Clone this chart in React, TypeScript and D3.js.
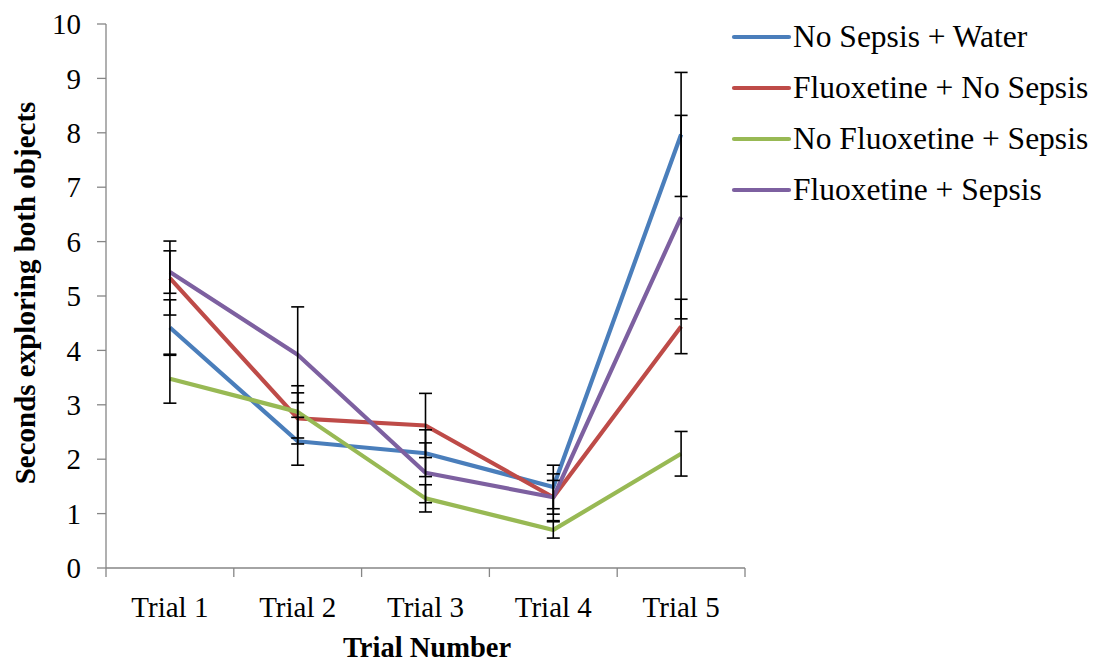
import * as d3 from "d3";

const trials = ["Trial 1", "Trial 2", "Trial 3", "Trial 4", "Trial 5"];
const seriesNames = [
  "No Sepsis + Water",
  "Fluoxetine + No Sepsis",
  "No Fluoxetine + Sepsis",
  "Fluoxetine + Sepsis",
];
const seriesColors = ["#4a7ebb", "#be4b48", "#98b954", "#7d60a0"];

const noSepsisWater = [4.42, 2.33, 2.11, 1.49, 7.97];
const fluoxNoSepsis = [5.33, 2.75, 2.62, 1.3, 4.44];
const noFluoxSepsis = [3.48, 2.87, 1.28, 0.7, 2.1];
const fluoxSepsis = [5.44, 3.92, 1.75, 1.3, 6.45];

const errNoSepsisWater = [0.51, 0.44, 0.43, 0.4, 1.14];
const errFluoxNoSepsis = [0.68, 0.47, 0.59, 0.43, 0.5];
const errNoFluoxSepsis = [0.45, 0.48, 0.25, 0.15, 0.41];
const errFluoxSepsis = [0.39, 0.88, 0.55, 0.31, 1.87];

const yTicks = [0, 1, 2, 3, 4, 5, 6, 7, 8, 9, 10];

const values = [noSepsisWater, fluoxNoSepsis, noFluoxSepsis, fluoxSepsis];
const errors = [errNoSepsisWater, errFluoxNoSepsis, errNoFluoxSepsis, errFluoxSepsis];

const W = 1106;
const H = 664;
const plot = { left: 106, right: 745, top: 24, bottom: 568 };
const serif = { fontFamily: "'Liberation Serif', 'Times New Roman', serif" };
const axisGray = "#868686";

export default function App() {
  const x = d3
    .scaleBand<string>()
    .domain(trials)
    .range([plot.left, plot.right]);
  const y = d3.scaleLinear().domain([0, 10]).range([plot.bottom, plot.top]);
  const cx = (t: string) => (x(t) ?? 0) + x.bandwidth() / 2;

  const line = d3
    .line<number>()
    .x((_, i) => cx(trials[i]))
    .y((d) => y(d));

  const boundaries = [...trials.map((t) => x(t) ?? 0), plot.right];

  return (
    <svg
      width={W}
      height={H}
      style={{ position: "absolute", left: 0, top: 0, background: "#fff" }}
    >
      {/* y axis */}
      <line x1={plot.left} x2={plot.left} y1={plot.top} y2={plot.bottom} stroke={axisGray} strokeWidth={1.3} />
      {yTicks.map((t) => (
        <g key={t}>
          <line x1={plot.left - 9} x2={plot.left} y1={y(t)} y2={y(t)} stroke={axisGray} strokeWidth={1.3} />
          <text x={81} y={y(t)} dy="0.35em" textAnchor="end" fontSize={29} fill="#000" style={serif}>
            {t}
          </text>
        </g>
      ))}

      {/* x axis */}
      <line x1={plot.left} x2={plot.right} y1={plot.bottom} y2={plot.bottom} stroke={axisGray} strokeWidth={1.3} />
      {boundaries.map((b, i) => (
        <line key={i} x1={b} x2={b} y1={plot.bottom} y2={plot.bottom + 9} stroke={axisGray} strokeWidth={1.3} />
      ))}
      {trials.map((t) => (
        <text key={t} x={cx(t)} y={617} textAnchor="middle" fontSize={29} fill="#000" style={serif}>
          {t}
        </text>
      ))}

      {/* axis titles */}
      <text x={427} y={657} textAnchor="middle" fontSize={28.5} fontWeight="bold" fill="#000" style={serif}>
        Trial Number
      </text>
      <text
        transform={`translate(35, 293) rotate(-90)`}
        textAnchor="middle"
        fontSize={29}
        fontWeight="bold"
        fill="#000"
        style={serif}
      >
        Seconds exploring both objects
      </text>

      {/* series lines */}
      {values.map((vals, s) => (
        <path
          key={s}
          d={line(vals) ?? ""}
          fill="none"
          stroke={seriesColors[s]}
          strokeWidth={4.2}
          strokeLinejoin="round"
        />
      ))}

      {/* error bars */}
      {values.map((vals, s) =>
        vals.map((v, i) => {
          const px = cx(trials[i]);
          const hi = y(v + errors[s][i]);
          const lo = y(v - errors[s][i]);
          return (
            <g key={`${s}-${i}`} stroke="#000" strokeWidth={1.6}>
              <line x1={px} x2={px} y1={hi} y2={lo} />
              <line x1={px - 6.5} x2={px + 6.5} y1={hi} y2={hi} />
              <line x1={px - 6.5} x2={px + 6.5} y1={lo} y2={lo} />
            </g>
          );
        })
      )}

      {/* legend */}
      {seriesNames.map((name, s) => {
        const ly = 37 + s * 51;
        return (
          <g key={name}>
            <line x1={734} x2={789} y1={ly} y2={ly} stroke={seriesColors[s]} strokeWidth={4.2} strokeLinecap="round" />
            <text x={793} y={ly + 10} fontSize={31.5} fill="#000" style={serif}>
              {name}
            </text>
          </g>
        );
      })}
    </svg>
  );
}
